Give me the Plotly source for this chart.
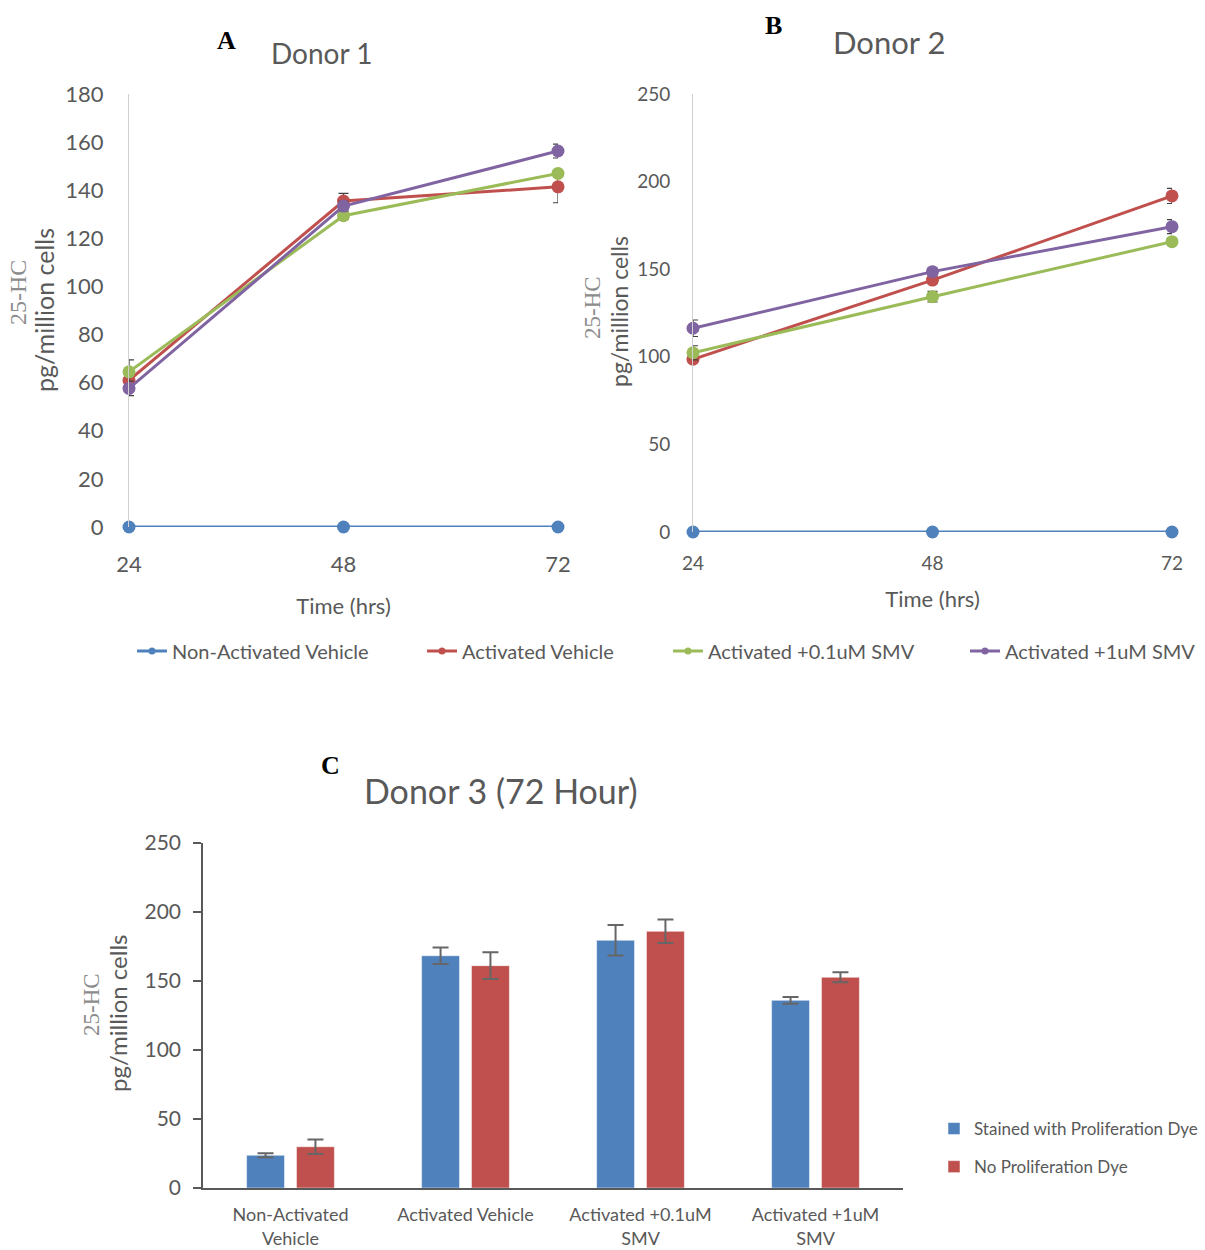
import plotly.graph_objects as go

W, H = 1205, 1250

# ---- Panels A and B: 25-HC over time ----
hours = [24, 48, 72]
series_names = ["Non-Activated Vehicle", "Activated Vehicle",
                "Activated +0.1uM SMV", "Activated +1uM SMV"]
line_colors = ["#4F81BD", "#C0504D", "#9BBB59", "#8064A2"]

donor1_nonact = [0, 0, 0]
donor1_act = [61, 135.5, 141.4]
donor1_smv01 = [64.5, 129.4, 147]
donor1_smv1 = [57.6, 133.4, 156.3]
donor1_nonact_err = [0, 0, 0]
donor1_act_err = [4, 3.2, 6.6]
donor1_smv01_err = [5, 1.5, 1.5]
donor1_smv1_err = [3, 2, 2.9]

donor2_nonact = [0, 0, 0]
donor2_act = [98.6, 143.8, 191.8]
donor2_smv01 = [102.3, 134.3, 165.7]
donor2_smv1 = [116.3, 148.6, 174.3]
donor2_nonact_err = [0, 0, 0]
donor2_act_err = [2, 2, 4.3]
donor2_smv01_err = [4, 3, 2]
donor2_smv1_err = [4.7, 2, 4]

# ---- Panel C: donor 3 at 72 h ----
categories = ["Non-Activated<br>Vehicle", "Activated Vehicle",
              "Activated +0.1uM<br>SMV", "Activated +1uM<br>SMV"]
bar_names = ["Stained with Proliferation Dye", "No Proliferation Dye"]
bar_colors = ["#4F81BD", "#C0504D"]
stained = [23.7, 168.3, 179.5, 136]
stained_err = [1.5, 6, 11, 2.4]
no_dye = [29.9, 161.1, 186, 152.7]
no_dye_err = [5.3, 9.7, 8.5, 3.6]

SANS = "Lato, 'Open Sans', sans-serif"
SERIF = "'Liberation Serif', 'DejaVu Serif', serif"
GREY = "#595959"


def px_x(p):
    return p / W


def px_y(p):
    return 1 - p / H


fig = go.Figure()

donor1 = [(donor1_nonact, donor1_nonact_err), (donor1_act, donor1_act_err),
          (donor1_smv01, donor1_smv01_err), (donor1_smv1, donor1_smv1_err)]
donor2 = [(donor2_nonact, donor2_nonact_err), (donor2_act, donor2_act_err),
          (donor2_smv01, donor2_smv01_err), (donor2_smv1, donor2_smv1_err)]

for axes, data in (("x", donor1), ("x2", donor2)):
    yaxis = "y" if axes == "x" else "y2"
    for i, (vals, errs) in enumerate(data):
        fig.add_trace(go.Scatter(
            x=hours, y=vals, xaxis=axes, yaxis=yaxis,
            mode="lines+markers", name=series_names[i], showlegend=False,
            line=dict(color=line_colors[i], width=3),
            marker=dict(color=line_colors[i], size=13),
            error_y=dict(type="data", array=errs, visible=any(errs),
                         color="#404040", thickness=1.2, width=5),
            cliponaxis=False,
        ))

# legend entries for the line series (one legend box each)
legend_ids = ["legend", "legend2", "legend3", "legend4"]
for i, name in enumerate(series_names):
    fig.add_trace(go.Scatter(
        x=[None], y=[None], xaxis="x", yaxis="y", mode="lines+markers",
        name=name, legend=legend_ids[i],
        line=dict(color=line_colors[i], width=3),
        marker=dict(color=line_colors[i], size=7),
    ))

# grouped bars for panel C
for name, vals, errs, col in ((bar_names[0], stained, stained_err, bar_colors[0]),
                              (bar_names[1], no_dye, no_dye_err, bar_colors[1])):
    fig.add_trace(go.Bar(
        x=categories, y=vals, name=name, xaxis="x3", yaxis="y3",
        legend="legend5", legendgroup=name,
        marker=dict(color=col, line=dict(color="white", width=0.5)),
        error_y=dict(type="data", array=errs, color="#666666",
                     thickness=2, width=8),
    ))

tick_font_a = dict(family=SANS, size=22, color=GREY)
tick_font_b = dict(family=SANS, size=19, color=GREY)

legend_common = dict(orientation="h", yanchor="middle", xanchor="left",
                     bgcolor="rgba(0,0,0,0)",
                     font=dict(family=SANS, size=20, color=GREY))

fig.update_layout(
    width=W, height=H,
    margin=dict(l=0, r=0, t=0, b=0, autoexpand=False),
    paper_bgcolor="white", plot_bgcolor="white",
    barmode="group", bargap=0.43, bargroupgap=0.24,
    xaxis=dict(domain=[px_x(129), px_x(558)], range=[24, 72], automargin=False,
               tickvals=hours, showgrid=False, zeroline=False, showline=False,
               tickfont=tick_font_a, ticklabelstandoff=22,
               title=dict(text="Time (hrs)", font=dict(family=SANS, size=22, color=GREY),
                          standoff=22)),
    yaxis=dict(domain=[px_y(527), px_y(94)], range=[0, 180], dtick=20, automargin=False,
               showgrid=False, zeroline=False, showline=True,
               linecolor="#d0d0d0", linewidth=1,
               tickfont=tick_font_a, ticklabelstandoff=20),
    xaxis2=dict(domain=[px_x(693), px_x(1172)], range=[24, 72], anchor="y2", automargin=False,
                tickvals=hours, showgrid=False, zeroline=False, showline=False,
                tickfont=tick_font_b, ticklabelstandoff=18,
                title=dict(text="Time (hrs)", font=dict(family=SANS, size=22, color=GREY),
                           standoff=18)),
    yaxis2=dict(domain=[px_y(532), px_y(94)], range=[0, 250], dtick=50, automargin=False,
                anchor="x2", showgrid=False, zeroline=False, showline=True,
                linecolor="#d0d0d0", linewidth=1,
                tickfont=tick_font_b, ticklabelstandoff=18),
    xaxis3=dict(domain=[px_x(203), px_x(903)], anchor="y3", type="category", automargin=False,
                showgrid=False, zeroline=False, showline=True,
                linecolor=GREY, linewidth=1.5, ticks="",
                tickfont=dict(family=SANS, size=18, color=GREY),
                ticklabelstandoff=10),
    yaxis3=dict(domain=[px_y(1188), px_y(843)], anchor="x3", range=[0, 250], automargin=False,
                dtick=50, showgrid=False, zeroline=False, showline=True,
                linecolor=GREY, linewidth=1.5, ticks="outside", ticklen=8,
                tickcolor=GREY, tickwidth=1.5,
                tickfont=dict(family=SANS, size=21, color=GREY),
                ticklabelstandoff=8),
    legend=dict(x=px_x(132), y=px_y(651), **legend_common),
    legend2=dict(x=px_x(422), y=px_y(651), **legend_common),
    legend3=dict(x=px_x(668), y=px_y(651), **legend_common),
    legend4=dict(x=px_x(965), y=px_y(651), **legend_common),
    legend5=dict(x=px_x(934), y=px_y(1148), xanchor="left", yanchor="middle",
                 orientation="v", bgcolor="rgba(0,0,0,0)", tracegroupgap=13,
                 itemwidth=30,
                 font=dict(family=SANS, size=17, color=GREY)),
)

annotations = [
    # panel letters
    dict(text="<b>A</b>", x=px_x(226), y=px_y(40), font=dict(family=SERIF, size=26, color="black")),
    dict(text="<b>B</b>", x=px_x(773), y=px_y(25), font=dict(family=SERIF, size=26, color="black")),
    dict(text="<b>C</b>", x=px_x(330), y=px_y(765), font=dict(family=SERIF, size=26, color="black")),
    # panel titles
    dict(text="Donor 1", x=px_x(322), y=px_y(53), font=dict(family=SANS, size=28, color=GREY)),
    dict(text="Donor 2", x=px_x(889), y=px_y(42), font=dict(family=SANS, size=31, color=GREY)),
    dict(text="Donor 3 (72 Hour)", x=px_x(501), y=px_y(790), font=dict(family=SANS, size=34, color=GREY)),
    # y-axis titles
    dict(text="25-HC", x=px_x(18), y=px_y(293), textangle=-90, font=dict(family=SERIF, size=24, color="#8c8c8c")),
    dict(text="pg/million cells", x=px_x(44), y=px_y(310), textangle=-90, font=dict(family=SANS, size=25, color=GREY)),
    dict(text="25-HC", x=px_x(593), y=px_y(308), textangle=-90, font=dict(family=SERIF, size=23, color="#8c8c8c")),
    dict(text="pg/million cells", x=px_x(619), y=px_y(311), textangle=-90, font=dict(family=SANS, size=23, color=GREY)),
    dict(text="25-HC", x=px_x(91), y=px_y(1005), textangle=-90, font=dict(family=SERIF, size=23, color="#8c8c8c")),
    dict(text="pg/million cells", x=px_x(117), y=px_y(1014), textangle=-90, font=dict(family=SANS, size=24, color=GREY)),
]
for a in annotations:
    a.update(xref="paper", yref="paper", showarrow=False, xanchor="center", yanchor="middle")
fig.update_layout(annotations=annotations)

fig.write_html("out.html")
